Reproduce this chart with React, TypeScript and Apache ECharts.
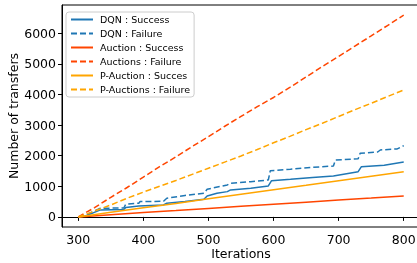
import React, { useEffect, useRef } from "react";
import * as echarts from "echarts";

const xTicks = [300, 400, 500, 600, 700, 800];
const yTicks = [0, 1000, 2000, 3000, 4000, 5000, 6000];

const dqnSuccess: [number, number][] = [
  [300, 0], [311, 30], [334, 228], [370, 240], [373, 304], [393, 358], [431, 391], [436, 447],
  [464, 500], [493, 577], [498, 685], [513, 772], [529, 825], [534, 880], [565, 936], [592, 1010],
  [597, 1184], [626, 1229], [660, 1290], [692, 1337], [730, 1477], [735, 1640], [770, 1690], [800, 1790],
];
const dqnFailure: [number, number][] = [
  [300, 0], [311, 60], [334, 283], [370, 290], [373, 414], [393, 447], [395, 500], [431, 510],
  [436, 610], [464, 700], [493, 772], [498, 903], [529, 1043], [534, 1098], [565, 1151], [592, 1206],
  [595, 1510], [626, 1555], [660, 1620], [692, 1660], [695, 1858], [730, 1900], [733, 2077],
  [760, 2120], [764, 2185], [790, 2220], [800, 2325],
];
const auctionSuccess: [number, number][] = [
  [300, 0], [350, 70], [400, 140], [450, 205], [500, 275], [550, 345], [600, 410], [650, 480],
  [700, 550], [750, 615], [800, 685],
];
const auctionFailure: [number, number][] = [
  [300, 0], [325, 300], [350, 640], [375, 960], [400, 1300], [425, 1640], [450, 1960], [475, 2300],
  [500, 2620], [525, 2960], [550, 3280], [575, 3600], [600, 3900], [625, 4230], [650, 4570],
  [675, 4910], [700, 5240], [725, 5580], [750, 5910], [775, 6250], [800, 6590],
];
const pAuctionSuccess: [number, number][] = [
  [300, 0], [350, 150], [400, 300], [450, 440], [500, 590], [550, 740], [600, 885], [650, 1030],
  [700, 1180], [750, 1330], [800, 1475],
];
const pAuctionFailure: [number, number][] = [
  [300, 0], [325, 190], [350, 390], [375, 610], [400, 810], [425, 1000], [450, 1190], [475, 1390],
  [500, 1590], [525, 1790], [550, 1990], [575, 2200], [600, 2420], [625, 2630], [650, 2850],
  [675, 3060], [700, 3280], [725, 3500], [750, 3710], [775, 3930], [800, 4145],
];

const BLUE = "#1f77b4";
const RED = "#ff4500";
const ORANGE = "#ffa500";
const FONT = "DejaVu Sans";

export default function App() {
  const ref = useRef<HTMLDivElement>(null);
  useEffect(() => {
    if (!ref.current) return;
    const chart = echarts.init(ref.current, undefined, { renderer: "svg" });
    const mk = (name: string, data: [number, number][], color: string, dashed: boolean) => ({
      name,
      type: "line",
      data,
      symbol: "none",
      showSymbol: false,
      clip: false,
      lineStyle: { color, width: 1.5, type: dashed ? [6, 3] : "solid" },
      itemStyle: { color },
    });
    chart.setOption({
      animation: false,
      textStyle: { fontFamily: FONT },
      grid: {
        left: 62,
        right: 20,
        top: 5,
        bottom: 36,
        outerBoundsMode: "none",
        containLabel: false,
        show: true,
        borderColor: "#000",
        borderWidth: 1,
        backgroundColor: "transparent",
      },
      legend: {
        orient: "vertical",
        left: 66,
        top: 12,
        padding: [2, 4, 2, 4],
        itemWidth: 22,
        itemHeight: 8,
        itemGap: 3,
        borderColor: "#cccccc",
        borderWidth: 1,
        borderRadius: 3,
        backgroundColor: "rgba(255,255,255,0.8)",
        itemStyle: { opacity: 0 },
        textStyle: { fontFamily: FONT, fontSize: 9.5, color: "#000", lineHeight: 11, padding: [0, 0, 0, 2] },
        data: [
          "DQN : Success",
          "DQN : Failure",
          "Auction : Success",
          "Auctions : Failure",
          "P-Auction : Succes",
          "P-Auctions : Failure",
        ],
      },
      xAxis: {
        type: "value",
        min: 275,
        max: 825,
        name: "Iterations",
        nameLocation: "middle",
        nameGap: 20,
        nameMoveOverlap: false,
        nameTextStyle: { fontFamily: FONT, fontSize: 12.5, lineHeight: 13, color: "#000" },
        axisLine: { show: true, lineStyle: { color: "#000", width: 1 } },
        axisTick: { show: true, length: 4, lineStyle: { color: "#000" }, customValues: xTicks },
        axisLabel: { fontFamily: FONT, fontSize: 12.5, color: "#000", margin: 6, customValues: xTicks, formatter: (v: number) => String(v) },
        splitLine: { show: false },
      },
      yAxis: {
        type: "value",
        min: -330,
        max: 6920,
        name: "Number of transfers",
        nameLocation: "middle",
        nameGap: 42,
        nameRotate: 90,
        nameMoveOverlap: false,
        nameTextStyle: { fontFamily: FONT, fontSize: 12.5, color: "#000" },
        axisLine: { show: true, lineStyle: { color: "#000", width: 1 } },
        axisTick: { show: true, length: 4, lineStyle: { color: "#000" }, customValues: yTicks },
        axisLabel: { fontFamily: FONT, fontSize: 12.5, color: "#000", margin: 6, customValues: yTicks, formatter: (v: number) => String(v) },
        splitLine: { show: false },
      },
      series: [
        mk("DQN : Success", dqnSuccess, BLUE, false),
        mk("DQN : Failure", dqnFailure, BLUE, true),
        mk("Auction : Success", auctionSuccess, RED, false),
        mk("Auctions : Failure", auctionFailure, RED, true),
        mk("P-Auction : Succes", pAuctionSuccess, ORANGE, false),
        mk("P-Auctions : Failure", pAuctionFailure, ORANGE, true),
      ],
    });
    return () => chart.dispose();
  }, []);
  return (
    <div
      ref={ref}
      style={{ position: "fixed", left: 0, top: 0, width: 440, height: 263 }}
    />
  );
}
